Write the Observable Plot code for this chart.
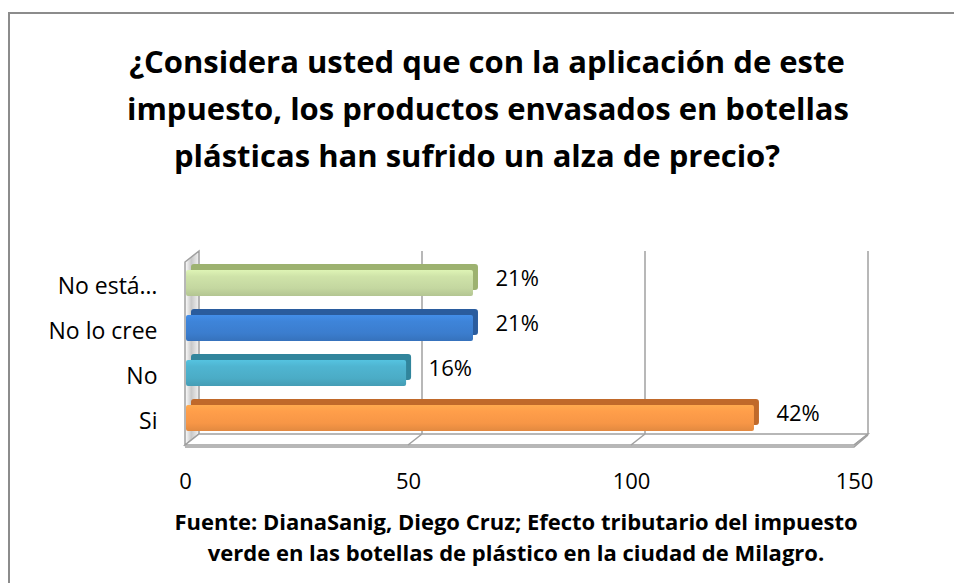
<!DOCTYPE html>
<html><head><meta charset="utf-8">
<script src="https://cdn.jsdelivr.net/npm/d3@7"></script>
<script src="https://cdn.jsdelivr.net/npm/@observablehq/plot@0.6"></script>
<style>
html,body{margin:0;padding:0;background:#fff;overflow:hidden;width:954px;height:583px;}
#frame{position:absolute;left:8px;top:12px;width:1100px;height:700px;border-left:2px solid #8c8c8c;border-top:2px solid #8c8c8c;}
#title{position:absolute;left:0;top:38px;width:954px;text-align:center;font-family:"Open Sans",sans-serif;font-weight:bold;font-size:31px;line-height:47px;color:#000;}
#title span{display:block;white-space:nowrap;}
#chart{position:absolute;left:0;top:200px;}
#caption{position:absolute;left:78px;top:506px;width:876px;text-align:center;font-family:"Open Sans",sans-serif;font-weight:bold;font-size:22px;line-height:31px;color:#000;white-space:nowrap;}
</style></head>
<body>
<div id="frame"></div>
<div id="title"><span style="padding-left:20px">¿Considera usted que con la aplicación de este</span><span style="padding-left:22px">impuesto, los productos envasados en botellas</span><span>plásticas han sufrido un alza de precio?</span></div>
<div id="chart"></div>
<div id="caption">Fuente: DianaSanig, Diego Cruz; Efecto tributario del impuesto<br>verde en las botellas de plástico en la ciudad de Milagro.</div>
<script>
const categories = ["No está…", "No lo cree", "No", "Si"];
const values = [63, 63, 48, 126];
const percentLabels = ["21%", "21%", "16%", "42%"];
const xTicks = [0, 50, 100, 150];
const faceColors = ["#c4d7a0", "#3b7dce", "#4bacc6", "#f79646"];
const topColors = ["#9db270", "#2a5c9e", "#31859c", "#c0692a"];

const data = categories.map((c, i) => ({
  category: c, value: values[i], label: percentLabels[i], idx: i
}));

const FRONT = {dx: -7, dy: 6};
const BACK = {dx: 7, dy: -5};

function defs() {
  const g = d3.create("svg:defs");
  faceColors.forEach((c, i) => {
    const lg = g.append("linearGradient").attr("id", "face" + i)
      .attr("x1", 0).attr("y1", 0).attr("x2", 0).attr("y2", 1);
    const base = d3.color(c);
    lg.append("stop").attr("offset", "0%").attr("stop-color", base.brighter(0.35).formatHex());
    lg.append("stop").attr("offset", "25%").attr("stop-color", base.brighter(0.15).formatHex());
    lg.append("stop").attr("offset", "70%").attr("stop-color", c);
    lg.append("stop").attr("offset", "100%").attr("stop-color", base.darker(0.25).formatHex());
  });
  const wall = g.append("linearGradient").attr("id", "wall")
    .attr("x1", 0).attr("y1", 0).attr("x2", 1).attr("y2", 0);
  wall.append("stop").attr("offset", "0%").attr("stop-color", "#ffffff");
  wall.append("stop").attr("offset", "45%").attr("stop-color", "#c8c8c8");
  wall.append("stop").attr("offset", "100%").attr("stop-color", "#f2f2f2");
  return g.node();
}

function box(index, scales, values, dims) {
  const top = dims.marginTop, bottom = dims.height - dims.marginBottom;
  const x = scales.x;
  const x0 = x(xTicks[0]), x1 = x(xTicks[xTicks.length - 1]);
  const g = d3.create("svg:g").attr("fill", "none").attr("stroke", "#a0a0a0").attr("stroke-width", 1.5);
  g.append("path").attr("fill", "url(#wall)")
    .attr("d", `M${x0 + FRONT.dx},${top + FRONT.dy}L${x0 + BACK.dx},${top + BACK.dy}L${x0 + BACK.dx},${bottom + BACK.dy}L${x0 + FRONT.dx},${bottom + FRONT.dy}Z`);
  g.append("path").attr("fill", "#ffffff")
    .attr("d", `M${x0 + FRONT.dx},${bottom + FRONT.dy}L${x0 + BACK.dx},${bottom + BACK.dy}L${x1 + BACK.dx},${bottom + BACK.dy}L${x1 + FRONT.dx},${bottom + FRONT.dy}Z`);
  g.append("path").attr("d", `M${x0 + FRONT.dx},${bottom + FRONT.dy + 2}L${x1 + FRONT.dx},${bottom + FRONT.dy + 2}L${x1 + BACK.dx},${bottom + BACK.dy + 1}`);
  for (const v of xTicks) {
    const xv = x(v);
    if (v !== xTicks[0]) {
      g.append("line").attr("x1", xv + BACK.dx).attr("x2", xv + BACK.dx)
        .attr("y1", top + BACK.dy).attr("y2", bottom + BACK.dy);
      g.append("line").attr("x1", xv + FRONT.dx).attr("x2", xv + BACK.dx)
        .attr("y1", bottom + FRONT.dy).attr("y2", bottom + BACK.dy);
    }
  }
  return g.node();
}

const chart = Plot.plot({
  width: 954,
  height: 300,
  marginLeft: 192,
  marginRight: 93,
  marginTop: 56,
  marginBottom: 61,
  style: {background: "transparent", fontFamily: "'Open Sans', sans-serif"},
  x: {domain: [0, 150], axis: null, label: null},
  y: {domain: categories, paddingInner: 0.43, paddingOuter: 0.215, axis: null, label: null},
  color: {type: "identity"},
  marks: [
    defs,
    box,
    Plot.barX(data, {x: "value", y: "category", fill: d => topColors[d.idx], dx: 5, dy: -3, insetLeft: -6, rx: 3}),
    Plot.barX(data, {x: "value", y: "category", fill: d => `url(#face${d.idx})`, dy: 3, insetLeft: -6, rx: 2}),
    Plot.text(data, {x: "value", y: "category", text: "label", textAnchor: "start", dx: 22, dy: -2, fontSize: 22, fill: "#000"}),
    Plot.axisY({label: null, tickSize: 0, tickPadding: 35, dy: 6, fontSize: 23, fill: "#000"}),
    Plot.axisX({label: null, ticks: xTicks, tickSize: 0, tickPadding: 28, dx: FRONT.dx, dy: FRONT.dy, fontSize: 22, fill: "#000", tickFormat: d => String(d)})
  ]
});
document.getElementById("chart").appendChild(chart);
</script>
</body></html>
